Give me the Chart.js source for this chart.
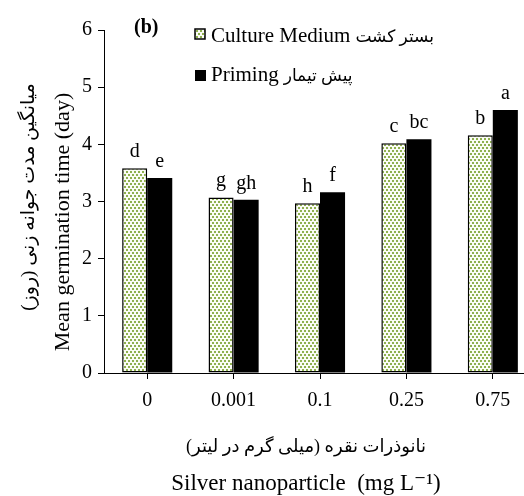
<!DOCTYPE html>
<html>
<head>
<meta charset="utf-8">
<script src="https://cdn.jsdelivr.net/npm/chart.js@4.4.1/dist/chart.umd.min.js"></script>
<style>
  html, body { margin: 0; padding: 0; background: #fff; overflow: hidden; }
  #wrap { width: 524px; height: 496px; overflow: hidden; position: relative; }
  canvas { display: block; }
</style>
</head>
<body>
<div id="wrap"><canvas id="c" width="540" height="496"></canvas></div>
<script>
// Silver nanoparticle concentrations (mg/L)
const categories = ['0', '0.001', '0.1', '0.25', '0.75'];
// Mean germination time (day)
const cultureMedium = [3.58, 3.07, 2.97, 4.02, 4.16];
const priming = [3.41, 3.03, 3.16, 4.09, 4.60];
// Mean-comparison letters
const cultureLetters = ['d', 'g', 'h', 'c', 'b'];
const primingLetters = ['e', 'gh', 'f', 'bc', 'a'];
const yTicks = [0, 1, 2, 3, 4, 5, 6];

const SERIF = '"Liberation Serif", "Times New Roman", "DejaVu Serif", serif';
const FA = '"Liberation Serif", "DejaVu Sans", serif';

// dotted green fill
function dotPattern() {
  const t = document.createElement('canvas');
  t.width = 4; t.height = 6;
  const g = t.getContext('2d');
  g.fillStyle = '#fbfcf6';
  g.fillRect(0, 0, 4, 6);
  g.fillStyle = '#8fb04f';
  g.fillRect(0, 0, 2, 2);
  g.fillRect(2, 3, 2, 2);
  return g.createPattern(t, 'repeat');
}

const ctx0 = document.getElementById('c').getContext('2d');
const dots = dotPattern();

function legendLine(ctx, latin, persian, x, y) {
  ctx.direction = 'ltr';
  ctx.textAlign = 'left';
  ctx.font = '21px ' + SERIF;
  ctx.fillText(latin, x, y);
  const w = ctx.measureText(latin).width;
  ctx.font = '17px ' + FA;
  ctx.direction = 'rtl';
  ctx.textAlign = 'left';
  const pw = ctx.measureText(persian).width;
  ctx.textAlign = 'right';
  ctx.fillText(persian, x + w + 5 + pw, y);
}

const annotate = {
  id: 'annotate',
  afterDatasetsDraw(chart) {
    const ctx = chart.ctx;
    ctx.save();
    ctx.fillStyle = '#000';
    ctx.textAlign = 'center';
    ctx.textBaseline = 'alphabetic';
    ctx.font = '20px ' + SERIF;
    const lists = [cultureLetters, primingLetters];
    chart.data.datasets.forEach((ds, di) => {
      chart.getDatasetMeta(di).data.forEach((bar, i) => {
        ctx.fillText(lists[di][i], bar.x, bar.y - 11);
      });
    });

    // panel tag
    ctx.font = 'bold 20px ' + SERIF;
    ctx.textAlign = 'left';
    ctx.fillText('(b)', 134, 33);

    // legend
    ctx.fillStyle = dots;
    ctx.fillRect(195, 29, 10, 10);
    ctx.strokeStyle = '#000';
    ctx.lineWidth = 1.5;
    ctx.strokeRect(195, 29, 10, 10);
    ctx.fillStyle = '#000';
    ctx.fillRect(195, 70, 11, 11);
    legendLine(ctx, 'Culture Medium', 'بستر کشت', 211, 42);
    legendLine(ctx, 'Priming', 'پیش تیمار', 211, 81);

    // x-axis titles
    ctx.textAlign = 'center';
    ctx.direction = 'rtl';
    ctx.font = '18px ' + FA;
    ctx.fillText('نانوذرات نقره (میلی گرم در لیتر)', 306, 452);
    ctx.direction = 'ltr';
    ctx.font = '23px ' + SERIF;
    ctx.fillText('Silver nanoparticle  (mg L\u207B\u00B9)', 306, 490);

    // y-axis titles
    ctx.save();
    ctx.translate(63, 222);
    ctx.rotate(-Math.PI / 2);
    ctx.font = '22px ' + SERIF;
    ctx.textBaseline = 'middle';
    ctx.textAlign = 'center';
    ctx.fillText('Mean germination time (day)', 0, 0);
    ctx.restore();
    ctx.save();
    ctx.translate(29, 197);
    ctx.rotate(-Math.PI / 2);
    ctx.direction = 'rtl';
    ctx.font = '19px ' + FA;
    ctx.textBaseline = 'middle';
    ctx.textAlign = 'center';
    ctx.fillText('میانگین مدت جوانه زنی (روز)', 0, 0);
    ctx.restore();
    ctx.restore();
  }
};

new Chart(ctx0, {
  type: 'bar',
  data: {
    labels: categories,
    datasets: [
      {
        label: 'Culture Medium',
        data: cultureMedium,
        backgroundColor: dots,
        borderColor: '#000',
        borderWidth: 1.5,
        borderSkipped: false
      },
      {
        label: 'Priming',
        data: priming,
        backgroundColor: '#000',
        borderColor: '#000',
        borderWidth: 0
      }
    ]
  },
  options: {
    responsive: false,
    animation: false,
    devicePixelRatio: 1,
    categoryPercentage: 0.58,
    barPercentage: 1,
    layout: { padding: { top: 30, right: 4, left: 0, bottom: 0 } },
    plugins: { legend: { display: false }, tooltip: { enabled: false } },
    scales: {
      x: {
        offset: true,
        grid: { display: true, drawOnChartArea: false, drawTicks: true, tickLength: 6, offset: false, color: '#000' },
        border: { display: true, color: '#000', width: 1 },
        ticks: { color: '#000', font: { family: SERIF, size: 20 }, padding: 10, maxRotation: 0 },
        afterFit(s) { s.height = 123; }
      },
      y: {
        min: 0, max: 6,
        afterBuildTicks(s) { s.ticks = yTicks.map(v => ({ value: v })); },
        grid: { display: true, drawOnChartArea: false, drawTicks: true, tickLength: 6, color: '#000' },
        border: { display: true, color: '#000', width: 1 },
        ticks: { color: '#000', font: { family: SERIF, size: 20 }, padding: 6 },
        afterFit(s) { s.width = 104; }
      }
    }
  },
  plugins: [annotate]
});
</script>
</body>
</html>
